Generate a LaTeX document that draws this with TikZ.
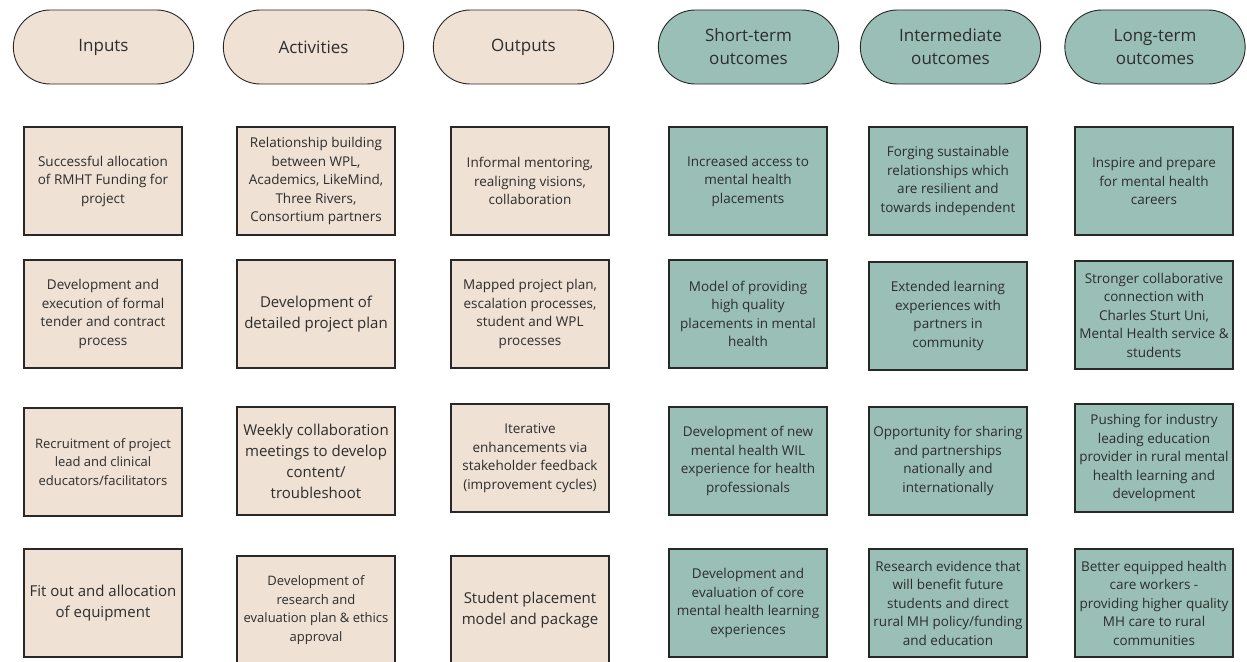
\documentclass[tikz,border=0pt]{standalone}
\usepackage{fontspec}
\setmainfont{Open Sans}
\usetikzlibrary{shapes.misc}
\definecolor{beigeFill}{RGB}{239, 225, 211}
\definecolor{tealFill}{RGB}{154, 191, 182}
\definecolor{lineGray}{RGB}{40, 40, 40}
\definecolor{textGray}{RGB}{45, 45, 45}
\tikzset{
  header/.style={rounded rectangle, minimum width=187pt, minimum height=74pt, draw=lineGray, line width=0.9pt, align=center, text=textGray, font=\fontsize{17}{23}\selectfont},
  card/.style={rectangle, minimum width=158pt, minimum height=108pt, inner sep=2pt, draw=lineGray, line width=1.1pt, align=center, text=textGray, font=\fontsize{13.5}{18.5}\selectfont},
  plan/.style={fill=beigeFill},
  result/.style={fill=tealFill},
  bigtext/.style={font=\fontsize{15}{21}\selectfont},
  smalltext/.style={font=\fontsize{13}{18.5}\selectfont}
}

\begin{document}
\begin{tikzpicture}[x=1pt, y=-1pt]
            \useasboundingbox (0,0) rectangle (1247,661);

            % Encabezados de las columnas
            \node[header, plan]   (hInputs)     at (103.5,47) {Inputs};
            \node[header, plan]   (hActivities) at (313.5,47) {Activities};
            \node[header, plan]   (hOutputs)    at (523.5,47) {Outputs};
            \node[header, result] (hShort)      at (748.5,47) {Short-term\\outcomes};
            \node[header, result] (hMid)        at (950.5,47) {Intermediate\\outcomes};
            \node[header, result] (hLong)       at (1155,47)  {Long-term\\outcomes};

            % Columna Inputs
            \node[card, plan] (inp1) at (103,181) {Successful allocation\\of RMHT Funding for\\project};
            \node[card, plan] (inp2) at (103,314) {Development and\\execution of formal\\tender and contract\\process};
            \node[card, plan, smalltext] (inp3) at (103,462) {Recruitment of project\\lead and clinical\\educators/facilitators};
            \node[card, plan, bigtext] (inp4) at (103,603) {Fit out and allocation\\of equipment};

            % Columna Activities
            \node[card, plan] (act1) at (316,181) {Relationship building\\between WPL,\\Academics, LikeMind,\\Three Rivers,\\Consortium partners};
            \node[card, plan, bigtext] (act2) at (316,314) {Development of\\detailed project plan};
            \node[card, plan, bigtext] (act3) at (316,461) {Weekly collaboration\\meetings to develop\\content/\\troubleshoot};
            \node[card, plan, smalltext] (act4) at (316,610) {Development of\\research and\\evaluation plan \& ethics\\approval};

            % Columna Outputs
            \node[card, plan] (out1) at (530,181) {Informal mentoring,\\realigning visions,\\collaboration};
            \node[card, plan] (out2) at (530,314) {Mapped project plan,\\escalation processes,\\student and WPL\\processes};
            \node[card, plan] (out3) at (530,458) {Iterative\\enhancements via\\stakeholder feedback\\(improvement cycles)};
            \node[card, plan, bigtext] (out4) at (530,610) {Student placement\\model and package};

            % Columna Short-term outcomes
            \node[card, result] (st1) at (748,181) {Increased access to\\mental health\\placements};
            \node[card, result] (st2) at (748,314) {Model of providing\\high quality\\placements in mental\\health};
            \node[card, result] (st3) at (748,461) {Development of new\\mental health WIL\\experience for health\\professionals};
            \node[card, result] (st4) at (748,603) {Development and\\evaluation of core\\mental health learning\\experiences};

            % Columna Intermediate outcomes
            \node[card, result] (mt1) at (948,181) {Forging sustainable\\relationships which\\are resilient and\\towards independent};
            \node[card, result] (mt2) at (948,316) {Extended learning\\experiences with\\partners in\\community};
            \node[card, result] (mt3) at (948,461) {Opportunity for sharing\\and partnerships\\nationally and\\internationally};
            \node[card, result] (mt4) at (948,603) {Research evidence that\\will benefit future\\students and direct\\rural MH policy/funding\\and education};

            % Columna Long-term outcomes
            \node[card, result] (lt1) at (1154,181) {Inspire and prepare\\for mental health\\careers};
            \node[card, result] (lt2) at (1154,315) {Stronger collaborative\\connection with\\Charles Sturt Uni,\\Mental Health service \&\\students};
            \node[card, result] (lt3) at (1154,458) {Pushing for industry\\leading education\\provider in rural mental\\health learning and\\development};
            \node[card, result] (lt4) at (1154,603) {Better equipped health\\care workers -\\providing higher quality\\MH care to rural\\communities};
        \end{tikzpicture}
\end{document}
